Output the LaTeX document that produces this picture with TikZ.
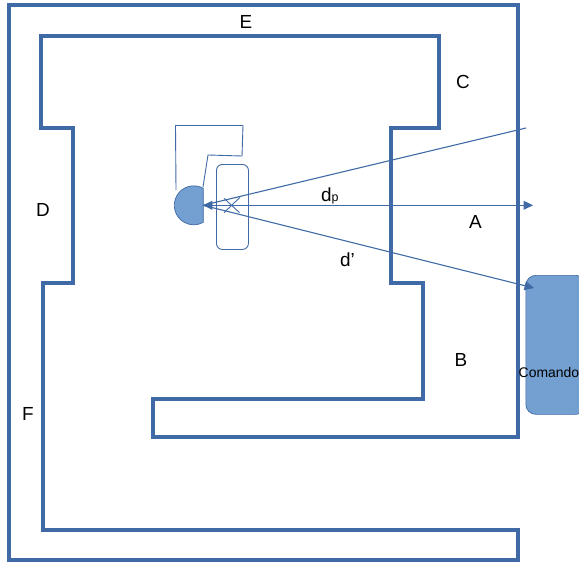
\documentclass[tikz,border=0pt]{standalone}
\usepackage{fontspec}
\setmainfont{Liberation Sans}
\usetikzlibrary{arrows.meta}
\definecolor{wallc}{HTML}{3F6AA6}
\definecolor{fillc}{HTML}{739FD1}
\tikzset{
  wall/.style={draw=wallc,line width=3.2bp,line join=miter},
  thin line/.style={draw=wallc,line width=0.9pt},
  ray/.style={draw=wallc,line width=1.1pt},
  tip/.style={-{Triangle[length=9.5pt,width=9pt]}},
  bothtip/.style={{Triangle[length=9.5pt,width=9pt]}-{Triangle[length=9.5pt,width=9pt]}},
  lab/.style={font=\fontsize{19}{21}\selectfont,inner sep=0pt,text=black},
  anchorpt/.style={inner sep=0pt,minimum size=0pt}
}
\begin{document}
\begin{tikzpicture}[x=1bp,y=-1bp]
\useasboundingbox (0,0) rectangle (579,564);
\clip (0,0) rectangle (579,564);
\path[wall] (518,437) -- (518,5) -- (9,5) -- (9,560) -- (518,560) -- (518,530) -- (43,530) -- (43,283) -- (73,283) -- (73,128) -- (41,128) -- (41,36) -- (439,36) -- (439,128) -- (391,128) -- (391,283) -- (423,283) -- (423,399) -- (153,399) -- (153,437) -- cycle;
% Comando box
\node[draw=wallc,fill=fillc,line width=0.7pt,rounded corners=10bp,minimum width=60bp,minimum height=139bp,anchor=north west,inner sep=0pt] (cmd) at (525.5,275) {};
\node[font=\fontsize{14}{16}\selectfont,anchor=base west,inner sep=0pt,text=black] (cmdt) at (518.5,377) {Comando};
% bracket outline
\node[anchorpt] (b1) at (176,190) {};
\node[anchorpt] (b6) at (203,187) {};
\path[thin line] (b1.center) -- (175.5,125.5) -- (243,125.5) -- (242,156) -- (208,155) -- (b6.center);
% sensor half disc
\path[draw=wallc,fill=fillc,line width=0.7pt] (203.3,188.3) arc[start angle=-60.8,end angle=-299.2,radius=19.5] -- cycle;
% rounded rectangle
\node[draw=wallc,line width=0.9pt,rounded corners=6bp,minimum width=32bp,minimum height=85bp,anchor=north west,inner sep=0pt] (box) at (216,164) {};
% cross
\path[thin line] (224,198.3) -- (239.5,212.7);
\path[thin line] (240,197.3) -- (224,212.7);
% rays
\node[anchorpt] (s) at (203,205.3) {};
\node[anchorpt] (r1) at (526,128) {};
\node[anchorpt] (r2) at (533,205.3) {};
\node[anchorpt] (r3) at (534,288) {};
\draw[ray,bothtip] (s.center) -- (r2.center);
\draw[ray] (s.center) -- (r1.center);
\draw[ray,tip] (s.center) -- (r3.center);
% labels
\node[lab] (E) at (246,22) {E};
\node[lab] (C) at (463,82) {C};
\node[lab] (D) at (43,210) {D};
\node[lab] (A) at (475.5,222) {A};
\node[lab] (B) at (461,360) {B};
\node[lab] (F) at (28,414) {F};
\node[lab,anchor=base west] (dp) at (321,201) {d\fontsize{12.5}{14}\selectfont p};
\node[lab,anchor=base west] (dq) at (340,266) {d’};
\end{tikzpicture}
\end{document}
